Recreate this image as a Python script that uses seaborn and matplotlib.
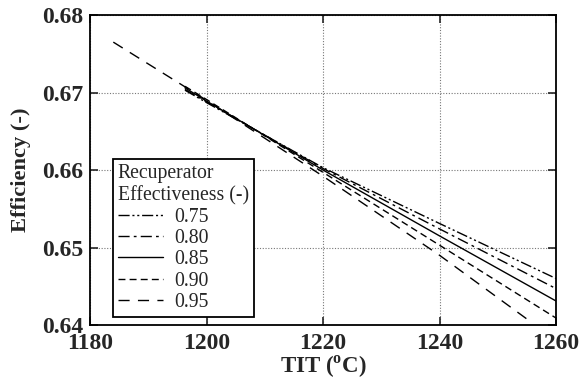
import matplotlib
matplotlib.use("Agg")
import matplotlib.pyplot as plt
import seaborn as sns
import pandas as pd

# Data
eff_labels = ["0.75", "0.80", "0.85", "0.90", "0.95"]
tit_075 = [1196.3, 1200, 1220, 1240, 1260]
eta_075 = [0.6703, 0.6687, 0.6603, 0.6531, 0.6460]
tit_080 = [1196.3, 1200, 1220, 1240, 1260]
eta_080 = [0.6704, 0.6688, 0.6602, 0.6524, 0.6447]
tit_085 = [1196.3, 1200, 1220, 1240, 1260]
eta_085 = [0.6706, 0.6689, 0.6600, 0.6515, 0.6431]
tit_090 = [1196.3, 1200, 1220, 1240, 1260]
eta_090 = [0.6708, 0.6691, 0.6597, 0.6503, 0.6409]
tit_095 = [1184.0, 1200, 1220, 1240, 1255.5]
eta_095 = [0.6765, 0.6690, 0.6592, 0.6490, 0.6405]

x_ticks = [1180, 1200, 1220, 1240, 1260]
y_ticks = [0.64, 0.65, 0.66, 0.67, 0.68]

frames = []
for lab, xs, ys in zip(eff_labels,
                       [tit_075, tit_080, tit_085, tit_090, tit_095],
                       [eta_075, eta_080, eta_085, eta_090, eta_095]):
    frames.append(pd.DataFrame({"TIT": xs, "eta": ys, "eff": lab}))
df = pd.concat(frames, ignore_index=True)

sns.set_style("ticks")
plt.rcParams["font.family"] = ["Liberation Serif", "DejaVu Serif"]
plt.rcParams["mathtext.fontset"] = "custom"
plt.rcParams["mathtext.rm"] = "Liberation Serif:bold"
plt.rcParams["mathtext.bf"] = "Liberation Serif:bold"

fig = plt.figure(figsize=(5.8, 3.85), dpi=100)
ax = fig.add_axes([90/580, 1-325/385, (556-90)/580, (325-15)/385])

dashes = {
    "0.75": (8, 2, 1.5, 2, 1.5, 2),
    "0.80": (8, 3, 2, 3),
    "0.85": "",
    "0.90": (5, 3),
    "0.95": (8, 6),
}
palette = {k: "black" for k in eff_labels}
sns.lineplot(data=df, x="TIT", y="eta", hue="eff", style="eff",
             palette=palette, dashes=dashes, linewidth=1.0,
             sort=False, estimator=None, ax=ax, legend=True)

ax.set_xlim(1180, 1260)
ax.set_ylim(0.64, 0.68)
ax.set_xticks(x_ticks)
ax.set_yticks(y_ticks)
ax.set_xticklabels([str(v) for v in x_ticks])
ax.set_yticklabels([f"{v:.2f}" for v in y_ticks])
ax.grid(True, linestyle=(0, (1, 1.5)), color="#777777", linewidth=0.8)
ax.tick_params(direction="in", length=6, width=1.2, top=True, right=True,
               labelsize=17)
ax.tick_params(axis="x", pad=6)
ax.tick_params(axis="y", pad=5)
for lab in ax.get_xticklabels() + ax.get_yticklabels():
    lab.set_fontweight("bold")
for sp in ax.spines.values():
    sp.set_linewidth(1.3)
    sp.set_color("black")

ax.set_xlabel(r"TIT ($^{\mathrm{o}}$C)", fontsize=16.5, fontweight="bold", labelpad=0)
ax.set_ylabel("Efficiency (-)", fontsize=16.2, fontweight="bold", labelpad=8)

handles, labels = ax.get_legend_handles_labels()
leg = ax.legend(handles, labels, title="Recuperator\nEffectiveness (-)",
                loc="lower left", bbox_to_anchor=(0.049, 0.026),
                borderaxespad=0, fontsize=14.2, title_fontsize=14.2,
                frameon=True, fancybox=False, edgecolor="black",
                framealpha=1, handlelength=2.3, handletextpad=0.55,
                labelspacing=0.12, borderpad=0.25)
leg._legend_box.align = "left"
leg.get_frame().set_linewidth(1.3)

fig.savefig("out.png", dpi=100)
